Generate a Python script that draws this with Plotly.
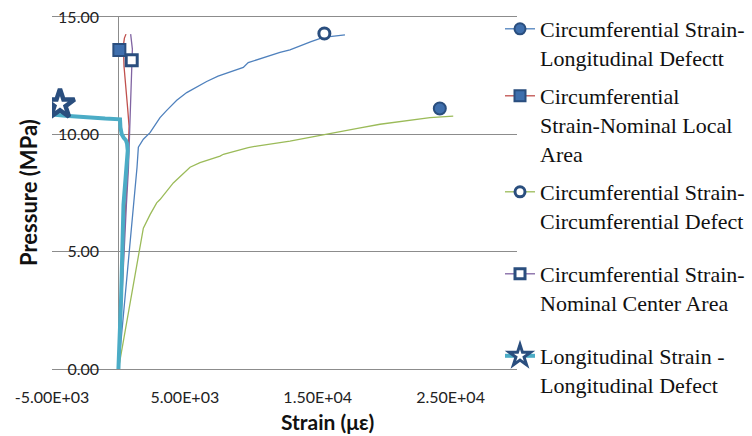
import plotly.graph_objects as go

# ---------------- data ----------------
# Circumferential Strain - Longitudinal Defect (blue)
long_def_x = [0, 300, 700, 1100, 1400, 1500, 1625, 1875, 2380, 2880, 3130, 3600, 4390, 5140, 5800,
              6640, 7500, 8650, 9400, 9770, 10500, 11300, 12160, 12910, 13660, 14500, 15420, 16200, 17050]
long_def_y = [0, 1.8, 4.2, 6.7, 8.6, 9.45, 9.57, 9.79, 10.07, 10.5, 10.71, 11.0, 11.45, 11.78, 12.0,
              12.25, 12.48, 12.72, 12.85, 13.06, 13.2, 13.35, 13.49, 13.6, 13.77, 13.95, 14.13, 14.18, 14.24]

# Circumferential Strain - Nominal Local Area (red)
local_x = [0, 150, 300, 500, 700, 820, 800, 700, 620, 500, 420, 370, 450, 570]
local_y = [0, 2.0, 4.0, 6.5, 8.5, 10.0, 10.35, 11.07, 11.64, 12.2, 12.9, 13.77, 14.1, 14.27]

# Circumferential Strain - Circumferential Defect (green)
circ_def_x = [0, 500, 1000, 1625, 1875, 2380, 2880, 3130, 4130, 5390, 6140, 7650, 7900, 9770,
              10410, 12160, 12910, 14500, 16430, 18000, 19690, 21500, 23450, 25200]
circ_def_y = [0, 1.6, 3.2, 5.23, 6.0, 6.58, 7.08, 7.22, 7.93, 8.6, 8.79, 9.07, 9.15, 9.43,
              9.5, 9.65, 9.71, 9.88, 10.07, 10.25, 10.43, 10.58, 10.71, 10.78]

# Circumferential Strain - Nominal Center Area (purple)
center_x = [0, 200, 400, 600, 750, 820, 870, 1000, 1050, 920]
center_y = [0, 2.5, 5.0, 7.0, 8.5, 9.64, 10.78, 12.2, 13.63, 14.27]

# Longitudinal Strain - Longitudinal Defect (cyan, thick)
lstrain_x = [0, 100, 200, 380, 600, 700, 650, 560, 400, 250, 150, 120, -1000, -2000, -3000, -4000, -4950]
lstrain_y = [0, 1.5, 3.0, 7.0, 8.8, 9.3, 9.6, 9.75, 9.85, 10.0, 10.3, 10.64, 10.67, 10.7, 10.74, 10.79, 10.85]

# marker points
m_filled_circle = ([24190], [11.1])
m_open_circle = ([15500], [14.3])
m_filled_square = ([70], [13.59])
m_open_square = ([1000], [13.16])
m_star = ([-4400], [11.28])

x_tick_vals = [-5000, 5000, 15000, 25000]
x_tick_text = ["-5.00E+03", "5.00E+03", "1.50E+04", "2.50E+04"]
y_tick_vals = [0, 5, 10, 15]
y_tick_text = ["0.00", "5.00", "10.00", "15.00"]

legend_names = [
    "Circumferential Strain-<br>Longitudinal Defectt",
    "Circumferential<br>Strain-Nominal Local<br>Area",
    "Circumferential Strain-<br>Circumferential Defect",
    "Circumferential Strain-<br>Nominal Center Area",
    "Longitudinal Strain -<br>Longitudinal Defect",
]

# ---------------- styles ----------------
C_BLUE = "#4F81BD"
C_RED = "#C0504D"
C_GREEN = "#9BBB59"
C_PURPLE = "#8064A2"
C_CYAN = "#4BACC6"
M_FILL = "#3F6FAD"
M_EDGE = "#2A4E7E"

fig = go.Figure()

line_series = [
    (long_def_x, long_def_y, C_BLUE, 1.3),
    (local_x, local_y, C_RED, 1.3),
    (circ_def_x, circ_def_y, C_GREEN, 1.3),
    (center_x, center_y, C_PURPLE, 1.3),
    (lstrain_x, lstrain_y, C_CYAN, 4),
]
for xs, ys, col, w in line_series:
    fig.add_trace(go.Scatter(x=xs, y=ys, mode="lines", line=dict(color=col, width=w),
                             showlegend=False, hoverinfo="skip"))

marker_styles = [
    (m_filled_circle, dict(symbol="circle", size=12, color=M_FILL, line=dict(color=M_EDGE, width=2))),
    (m_open_circle, dict(symbol="circle", size=11, color="white", line=dict(color=M_EDGE, width=3))),
    (m_filled_square, dict(symbol="square", size=12, color=M_FILL, line=dict(color=M_EDGE, width=2))),
    (m_open_square, dict(symbol="square", size=11, color="white", line=dict(color=M_EDGE, width=3))),
    (m_star, dict(symbol="star", size=22, color="white", line=dict(color=M_EDGE, width=4.5))),
]
for (xs, ys), mk in marker_styles:
    fig.add_trace(go.Scatter(x=xs, y=ys, mode="markers", marker=mk, showlegend=False, hoverinfo="skip"))

# legend proxies (one legend each, positioned like the original)
legend_lines = [(C_BLUE, 1.3), (C_RED, 1.3), (C_GREEN, 1.3), (C_PURPLE, 1.3), (C_CYAN, 4)]
legend_markers = [
    dict(symbol="circle", size=11, color=M_FILL, line=dict(color=M_EDGE, width=2)),
    dict(symbol="square", size=11, color=M_FILL, line=dict(color=M_EDGE, width=2)),
    dict(symbol="circle", size=10, color="white", line=dict(color=M_EDGE, width=3)),
    dict(symbol="square", size=10, color="white", line=dict(color=M_EDGE, width=3)),
    dict(symbol="star", size=16, color="white", line=dict(color=M_EDGE, width=3)),
]
legend_ids = ["legend", "legend2", "legend3", "legend4", "legend5"]
legend_top_px = [30, 97, 193, 275, 357]

PL, PR, PT, PB = 52, 517, 17, 369
W, H = 752, 436

for name, (lc, lw), mk, lid in zip(legend_names, legend_lines, legend_markers, legend_ids):
    fig.add_trace(go.Scatter(x=[None], y=[None], mode="lines+markers", name=name,
                             line=dict(color=lc, width=lw), marker=mk, legend=lid))

layout_legends = {}
for lid, cy in zip(legend_ids, legend_top_px):
    layout_legends[lid] = dict(
        x=(500 - PL) / (PR - PL), xanchor="left",
        y=(PB - (cy - 22)) / (PB - PT), yanchor="top",
        font=dict(family="Liberation Serif", size=22, color="#111"),
        bgcolor="rgba(0,0,0,0)", valign="top", itemsizing="trace",
    )

fig.update_layout(
    width=W, height=H,
    margin=dict(l=PL, r=W - PR, t=PT, b=H - PB, autoexpand=False),
    paper_bgcolor="white", plot_bgcolor="white",
    font=dict(family="Lato", size=16, color="#222"),
    xaxis=dict(range=[-5000, 30000], tickvals=x_tick_vals, ticktext=x_tick_text,
               showgrid=False, zeroline=True, zerolinecolor="#8C8C8C", zerolinewidth=1,
               showline=True, mirror=True, linecolor="#8C8C8C", linewidth=1,
               ticks="", ticklabelstandoff=14, tickfont=dict(family="Lato", size=16, color="#222")),
    yaxis=dict(range=[0, 15], tickvals=y_tick_vals, ticktext=y_tick_text,
               showgrid=True, gridcolor="#8C8C8C", gridwidth=1, zeroline=False,
               showline=False, ticks="", ticklabelstandoff=-48,
               tickfont=dict(family="Lato", size=16, color="#222")),
    annotations=[
        dict(text="Strain (με)", x=(327 - PL) / (PR - PL), y=(PB - 421) / (PB - PT),
             xref="paper", yref="paper", showarrow=False, xanchor="center", yanchor="middle",
             font=dict(family="Lato", size=21, color="#111", weight="bold")),
        dict(text="Pressure (MPa)", x=(28 - PL) / (PR - PL), y=(PB - 193) / (PB - PT),
             xref="paper", yref="paper", showarrow=False, xanchor="center", yanchor="middle",
             textangle=-90, font=dict(family="Lato", size=22, color="#111", weight="bold")),
    ],
    **layout_legends,
)

fig.write_html("out.html")
